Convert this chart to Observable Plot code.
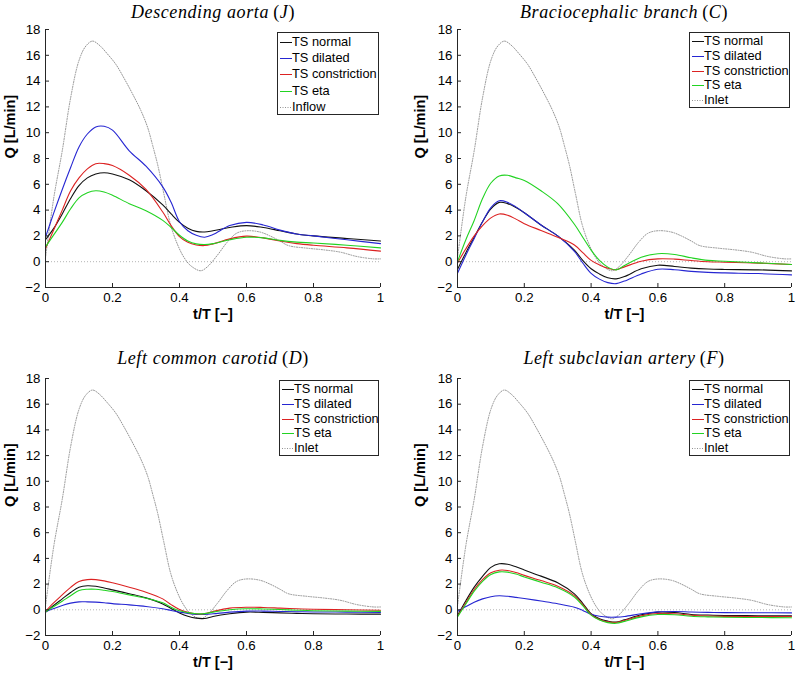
<!DOCTYPE html>
<html><head><meta charset="utf-8">
<script src="https://cdn.jsdelivr.net/npm/d3@7"></script>
<script src="https://cdn.jsdelivr.net/npm/@observablehq/plot@0.6"></script>
<style>
body{margin:0;background:#fff;}
#root{position:relative;width:796px;height:676px;overflow:hidden;font-family:"Liberation Sans",Arial,sans-serif;background:#fff;}
.panel{position:absolute;}
.title{position:absolute;transform:translate(-50%,-50%);white-space:nowrap;font-family:"Liberation Serif","Times New Roman",serif;font-size:18px;letter-spacing:0.6px;color:#000;}
.title i{font-style:italic;}
.legend{position:absolute;border:1px solid #262626;background:#fff;box-sizing:border-box;}
.legend .row{position:absolute;left:0;height:14px;font-size:12.8px;line-height:14px;color:#000;white-space:nowrap;}
.legend .row svg{position:absolute;left:2px;top:0;}
.legend .row span{position:absolute;left:14px;top:0;}
</style>
</head><body><div id="root"></div>
<script>
// ---------- data ----------
const t = [0, 0.025, 0.05, 0.075, 0.1, 0.125, 0.15, 0.175, 0.2, 0.25, 0.3, 0.35, 0.375, 0.4, 0.425, 0.45, 0.475, 0.5, 0.55, 0.6, 0.65, 0.7, 0.75, 0.8, 0.9, 1];

const inflowT = [0, 0.025, 0.05, 0.075, 0.1, 0.12, 0.14, 0.16, 0.185, 0.21, 0.235, 0.26, 0.285, 0.305, 0.32, 0.335, 0.353, 0.373, 0.393, 0.413, 0.433, 0.463, 0.483, 0.513, 0.542, 0.57, 0.6, 0.64, 0.67, 0.7, 0.725, 0.78, 0.83, 0.88, 0.93, 0.98, 1];
const inflowQ = [0.3, 5.0, 8.6, 12.7, 15.6, 16.7, 17.1, 16.8, 16.1, 15.3, 14.2, 13.0, 11.7, 10.4, 9.0, 7.5, 5.3, 2.9, 1.4, 0.35, -0.3, -0.7, -0.4, 0.5, 1.5, 2.2, 2.4, 2.3, 2.0, 1.6, 1.25, 1.05, 0.92, 0.74, 0.4, 0.22, 0.22];

// Descending aorta (J)
const descNormal = [1.7, 2.6, 3.7, 4.9, 5.9, 6.5, 6.8, 6.9, 6.8, 6.35, 5.5, 4.4, 3.7, 3.05, 2.6, 2.35, 2.3, 2.4, 2.65, 2.8, 2.65, 2.4, 2.15, 2.0, 1.8, 1.6];
const descDilated = [1.9, 3.8, 5.6, 7.3, 8.9, 9.9, 10.45, 10.5, 10.2, 8.6, 7.4, 5.8, 4.6, 3.1, 2.4, 2.05, 1.9, 2.1, 2.8, 3.05, 2.85, 2.45, 2.15, 2.0, 1.7, 1.4];
const descConstr = [1.0, 2.5, 4.0, 5.5, 6.5, 7.2, 7.6, 7.6, 7.45, 6.7, 5.6, 3.85, 2.8, 1.95, 1.5, 1.3, 1.25, 1.38, 1.77, 1.98, 1.85, 1.6, 1.4, 1.27, 1.07, 0.82];
const descEta = [1.15, 2.1, 3.05, 4.1, 4.95, 5.35, 5.5, 5.4, 5.15, 4.5, 3.95, 3.2, 2.65, 2.05, 1.6, 1.38, 1.33, 1.4, 1.7, 1.9, 1.85, 1.65, 1.52, 1.45, 1.28, 1.07];

// Braciocephalic branch (C)
const bracNormal = [-0.6, 0.7, 1.9, 3.1, 4.1, 4.6, 4.5, 4.2, 3.8, 2.85, 2.0, 0.9, 0.1, -0.55, -0.95, -1.25, -1.33, -1.15, -0.55, -0.27, -0.37, -0.5, -0.57, -0.6, -0.63, -0.71];
const bracDilated = [-0.9, 0.5, 1.8, 3.1, 4.2, 4.72, 4.6, 4.25, 3.8, 2.85, 2.0, 0.8, -0.1, -0.9, -1.35, -1.62, -1.7, -1.5, -0.95, -0.58, -0.62, -0.75, -0.83, -0.87, -0.92, -1.02];
const bracConstr = [-0.1, 1.0, 2.0, 2.8, 3.4, 3.7, 3.6, 3.3, 2.95, 2.42, 1.9, 1.3, 0.7, 0.1, -0.25, -0.5, -0.62, -0.4, 0.04, 0.22, 0.2, 0.09, 0.0, -0.04, -0.11, -0.22];
const bracEta = [0.0, 1.7, 3.2, 4.9, 6.1, 6.65, 6.7, 6.5, 6.3, 5.5, 4.5, 2.9, 1.9, 0.9, 0.1, -0.42, -0.63, -0.3, 0.35, 0.62, 0.56, 0.3, 0.1, 0.04, -0.09, -0.22];

// Left common carotid (D)
const lccNormal = [-0.2, 0.35, 0.85, 1.35, 1.75, 1.87, 1.83, 1.7, 1.55, 1.25, 0.93, 0.46, 0.1, -0.24, -0.5, -0.65, -0.68, -0.52, -0.31, -0.18, -0.2, -0.24, -0.28, -0.31, -0.33, -0.34];
const lccDilated = [-0.15, 0.1, 0.33, 0.52, 0.62, 0.62, 0.6, 0.55, 0.48, 0.38, 0.26, 0.08, -0.05, -0.18, -0.28, -0.36, -0.36, -0.31, -0.18, -0.1, -0.1, -0.13, -0.15, -0.17, -0.18, -0.2];
const lccConstr = [-0.13, 0.55, 1.16, 1.75, 2.2, 2.35, 2.35, 2.25, 2.1, 1.76, 1.37, 0.85, 0.4, 0.02, -0.2, -0.31, -0.3, -0.13, 0.13, 0.2, 0.18, 0.13, 0.08, 0.04, 0.0, -0.03];
const lccEta = [-0.15, 0.25, 0.67, 1.1, 1.5, 1.6, 1.6, 1.52, 1.42, 1.16, 0.9, 0.54, 0.2, -0.08, -0.22, -0.31, -0.3, -0.18, 0.0, 0.08, 0.06, 0.02, -0.03, -0.07, -0.1, -0.12];

// Left subclavian artery (F)
const lsaNormal = [-0.45, 0.7, 1.76, 2.6, 3.3, 3.58, 3.55, 3.35, 3.1, 2.62, 2.1, 1.24, 0.5, -0.31, -0.7, -0.88, -0.95, -0.78, -0.39, -0.18, -0.21, -0.36, -0.41, -0.44, -0.46, -0.47];
const lsaDilated = [-0.13, 0.25, 0.59, 0.85, 1.02, 1.09, 1.05, 0.97, 0.88, 0.68, 0.47, 0.2, -0.05, -0.35, -0.5, -0.57, -0.57, -0.52, -0.31, -0.16, -0.13, -0.17, -0.2, -0.22, -0.23, -0.24];
const lsaConstr = [-0.5, 0.55, 1.58, 2.35, 2.88, 3.08, 3.06, 2.9, 2.68, 2.28, 1.84, 1.1, 0.4, -0.37, -0.75, -0.94, -0.99, -0.83, -0.47, -0.29, -0.31, -0.42, -0.48, -0.51, -0.52, -0.52];
const lsaEta = [-0.55, 0.45, 1.45, 2.22, 2.75, 2.95, 2.93, 2.78, 2.56, 2.15, 1.72, 1.0, 0.32, -0.42, -0.8, -1.0, -1.05, -0.9, -0.55, -0.37, -0.38, -0.5, -0.55, -0.58, -0.6, -0.62];

const seriesNames = ["TS normal", "TS dilated", "TS constriction", "TS eta"];
const xTicks = [0, 0.2, 0.4, 0.6, 0.8, 1];
const yTicks = [-2, 0, 2, 4, 6, 8, 10, 12, 14, 16, 18];
const xLabel = "t/T [\u2212]";
const yLabel = "Q [L/min]";

// ---------- styles / layout ----------
const seriesColors = ["#111111", "#2626d2", "#dc2222", "#22d322"];
const refColor = "#939393";
const axisColor = "#262626";

const panels = [
  {name: "Descending aorta", letter: "J", refName: "Inflow", series: [descNormal, descDilated, descConstr, descEta],
   left: 0, top: 0, width: 398, height: 330, ml: 45, mr: 18, mt: 29, mb: 43, ylabDx: -35,
   titleX: 213, titleY: 12, leg: {x: 277, y: 32, w: 102, h: 83, row0: 2, step: 16.2}},
  {name: "Braciocephalic branch", letter: "C", refName: "Inlet", series: [bracNormal, bracDilated, bracConstr, bracEta],
   left: 398, top: 0, width: 398, height: 330, ml: 59, mr: 5, mt: 29, mb: 43, ylabDx: -37,
   titleX: 624, titleY: 12, leg: {x: 689, y: 32, w: 101, h: 76, row0: 1, step: 14.8}},
  {name: "Left common carotid", letter: "D", refName: "Inlet", series: [lccNormal, lccDilated, lccConstr, lccEta],
   left: 0, top: 330, width: 398, height: 346, ml: 45, mr: 18, mt: 48, mb: 41, ylabDx: -35,
   titleX: 213, titleY: 358, leg: {x: 279, y: 380, w: 100, h: 76, row0: 1, step: 14.8}},
  {name: "Left subclavian artery", letter: "F", refName: "Inlet", series: [lsaNormal, lsaDilated, lsaConstr, lsaEta],
   left: 398, top: 330, width: 398, height: 346, ml: 59, mr: 5, mt: 48, mb: 41, ylabDx: -37,
   titleX: 624, titleY: 358, leg: {x: 689, y: 380, w: 101, h: 76, row0: 1, step: 14.8}}
];

const root = document.getElementById("root");
const fmtY = d => d < 0 ? "\u2212" + (-d) : String(d);

panels.forEach(p => {
  const pw = p.width - p.ml - p.mr, ph = p.height - p.mt - p.mb;
  const inflow = inflowT.map((x, i) => ({t: x, q: inflowQ[i]}));
  const lineMarks = p.series.map((vals, si) =>
    Plot.line(vals.map((v, i) => ({t: t[i], q: v})), {x: "t", y: "q", stroke: seriesColors[si], strokeWidth: 1.1, curve: "catmull-rom"}));
  const chart = Plot.plot({
    width: p.width, height: p.height,
    marginLeft: p.ml, marginRight: p.mr, marginTop: p.mt, marginBottom: p.mb,
    x: {domain: [0, 1], ticks: xTicks, tickSize: 0, tickPadding: 5, label: null, tickFormat: d => String(d)},
    y: {domain: [-2, 18], ticks: yTicks, tickSize: 0, tickPadding: 5, label: null, tickFormat: fmtY},
    style: {fontFamily: "'Liberation Sans', Arial, sans-serif", fontSize: "13.3px", color: "#000", background: "transparent", overflow: "visible"},
    marks: [
      Plot.ruleY([0], {stroke: "#b4b4b4", strokeDasharray: "1,2"}),
      Plot.line(inflow, {x: "t", y: "q", stroke: refColor, strokeDasharray: "1,1.5", strokeWidth: 1, curve: "catmull-rom"}),
      ...lineMarks,
      Plot.ruleX([0], {stroke: axisColor}),
      Plot.ruleY([-2], {stroke: axisColor}),
      Plot.tickY(yTicks, {y: d => d, stroke: axisColor, insetRight: pw - 4}),
      Plot.tickX(xTicks, {x: d => d, stroke: axisColor, insetTop: ph - 4}),
      Plot.text([xLabel], {frameAnchor: "bottom", dy: 31, fontWeight: "bold", fontSize: 14.5, fill: "#000"}),
      Plot.text([yLabel], {frameAnchor: "left", dx: p.ylabDx, rotate: -90, fontWeight: "bold", fontSize: 14.5, fill: "#000"})
    ]
  });
  chart.classList.add("panel");
  chart.style.left = p.left + "px";
  chart.style.top = p.top + "px";
  root.appendChild(chart);

  // title
  const title = document.createElement("div");
  title.className = "title";
  title.style.left = p.titleX + "px";
  title.style.top = p.titleY + "px";
  title.innerHTML = `<i>${p.name}</i>\u2009(<i>${p.letter}</i>)`;
  root.appendChild(title);

  // legend
  const L = p.leg;
  const leg = document.createElement("div");
  leg.className = "legend";
  Object.assign(leg.style, {left: L.x + "px", top: L.y + "px", width: L.w + "px", height: L.h + "px"});
  const names = [...seriesNames, p.refName];
  const cols = [...seriesColors, refColor];
  names.forEach((nm, i) => {
    const row = document.createElement("div");
    row.className = "row";
    row.style.top = (L.row0 + i * L.step) + "px";
    const dash = i === 4 ? ' stroke-dasharray="1,1.5"' : "";
    row.innerHTML = `<svg width="12" height="14"><line x1="0" x2="12" y1="7.5" y2="7.5" stroke="${cols[i]}" stroke-width="1"${dash}/></svg><span>${nm}</span>`;
    leg.appendChild(row);
  });
  root.appendChild(leg);
});
</script>
</body></html>
